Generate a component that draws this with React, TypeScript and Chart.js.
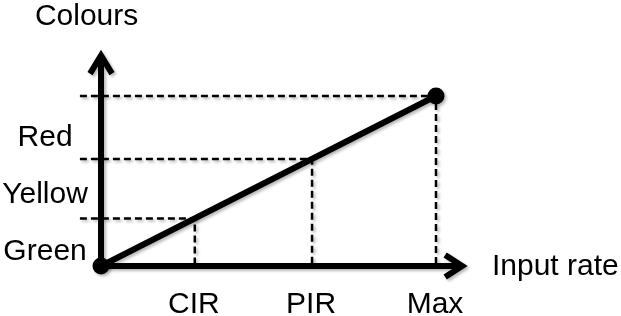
import React, { useEffect, useRef } from 'react';
import { Chart, registerables } from 'chart.js';

Chart.register(...registerables);

// ---- data ----
const rateNames = ['CIR', 'PIR', 'Max'];
const rateValues = [28, 63, 100];
const colourNames = ['Green', 'Yellow', 'Red'];
const colourTickValues = [9.7, 43.5, 77];
const lineX = [0, 100];
const lineY = [0, 100];
const xAxisTitle = 'Input rate';
const yAxisTitle = 'Colours';

const FONT = '30px "Liberation Sans", Arial, Helvetica, sans-serif';

const setShadow = (ctx: CanvasRenderingContext2D) => {
  ctx.shadowColor = 'rgba(0,0,0,0.28)';
  ctx.shadowBlur = 3;
  ctx.shadowOffsetX = 2;
  ctx.shadowOffsetY = 2;
};

const diagramPlugin = {
  id: 'diagram',
  beforeDatasetsDraw(chart: any) {
    const { ctx, scales } = chart;
    const xs = scales.x;
    const ys = scales.y;
    const ox = xs.getPixelForValue(0);
    const oy = ys.getPixelForValue(0);
    const xEnd = xs.getPixelForValue(109.3);
    const yEnd = ys.getPixelForValue(127);
    ctx.save();
    setShadow(ctx);
    ctx.strokeStyle = '#000';
    ctx.lineWidth = 6;
    ctx.lineJoin = 'miter';
    ctx.lineCap = 'butt';
    // x axis with arrow head
    ctx.beginPath();
    ctx.moveTo(ox, oy);
    ctx.lineTo(xEnd - 7, oy);
    ctx.moveTo(xEnd - 5 - 17, oy - 11);
    ctx.lineTo(xEnd - 5, oy);
    ctx.lineTo(xEnd - 5 - 17, oy + 11);
    ctx.stroke();
    // y axis with arrow head
    ctx.beginPath();
    ctx.moveTo(ox, oy);
    ctx.lineTo(ox, yEnd + 7);
    ctx.moveTo(ox - 11, yEnd + 5.5 + 18);
    ctx.lineTo(ox, yEnd + 5.5);
    ctx.lineTo(ox + 11, yEnd + 5.5 + 18);
    ctx.stroke();
    ctx.restore();
    ctx.save();
    setShadow(ctx);
  },
  afterDatasetsDraw(chart: any) {
    chart.ctx.restore();
  },
  afterDraw(chart: any) {
    const { ctx, scales } = chart;
    const xs = scales.x;
    const ys = scales.y;
    ctx.save();
    ctx.fillStyle = '#000';
    ctx.font = FONT;
    ctx.textBaseline = 'alphabetic';
    const capHalf = 10.7;
    ctx.textAlign = 'center';
    rateNames.forEach((name, i) => {
      ctx.fillText(name, xs.getPixelForValue(rateValues[i]) - 1, ys.getPixelForValue(-27.6));
    });
    colourNames.forEach((name, i) => {
      ctx.fillText(name, xs.getPixelForValue(-16.7), ys.getPixelForValue(colourTickValues[i]) + capHalf);
    });
    ctx.fillText(yAxisTitle, xs.getPixelForValue(-4.3), ys.getPixelForValue(141.8));
    ctx.textAlign = 'left';
    ctx.fillText(xAxisTitle, xs.getPixelForValue(116.7), ys.getPixelForValue(-5.3));
    ctx.restore();
  },
};

export default function App() {
  const ref = useRef<HTMLCanvasElement | null>(null);

  useEffect(() => {
    if (!ref.current) return;
    const dashStart = -6.3;
    const guideSets = rateValues.map((v) => ({
      data: [
        { x: dashStart, y: v },
        { x: v, y: v },
        { x: v, y: 0 },
      ],
      showLine: true,
      borderColor: '#000',
      borderWidth: 2.5,
      borderDash: [7, 4],
      pointRadius: 0,
      fill: false,
      tension: 0,
      clip: false as any,
    }));
    const chart = new Chart(ref.current, {
      type: 'scatter',
      data: {
        datasets: [
          {
            data: lineX.map((x, i) => ({ x, y: lineY[i] })),
            showLine: true,
            borderColor: '#000',
            borderWidth: 6,
            pointRadius: 8.5,
            pointBackgroundColor: '#000',
            pointBorderColor: '#000',
            pointBorderWidth: 0,
            clip: false as any,
          },
          ...guideSets,
        ],
      },
      options: {
        animation: false,
        responsive: false,
        maintainAspectRatio: false,
        layout: { padding: { left: 101, right: 185, top: 96, bottom: 50 } },
        plugins: { legend: { display: false }, tooltip: { enabled: false } },
        scales: {
          x: { type: 'linear', min: 0, max: 100, display: false },
          y: { type: 'linear', min: 0, max: 100, display: false },
        },
        events: [],
      },
      plugins: [diagramPlugin],
    });
    return () => chart.destroy();
  }, []);

  return (
    <div style={{ position: 'fixed', left: 0, top: 0, width: 621, height: 316, background: '#fff' }}>
      <canvas ref={ref} width={621} height={316} style={{ display: 'block' }} />
    </div>
  );
}
